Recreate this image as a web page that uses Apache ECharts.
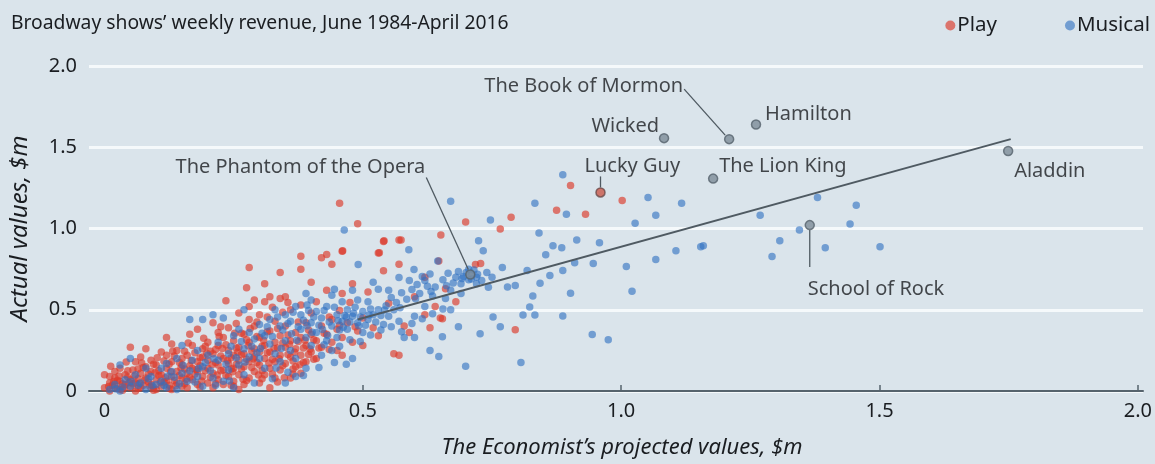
<!DOCTYPE html>
<html><head><meta charset="utf-8">
<script src="https://cdn.jsdelivr.net/npm/echarts@6/dist/echarts.min.js"></script>
<style>html,body{margin:0;padding:0;background:#dae4eb;}#c{width:1155px;height:464px;}</style>
</head><body><div id="c"></div>
<script>
var subtitle = "Broadway shows\u2019 weekly revenue, June 1984-April 2016";
var xTicks = [0, 0.5, 1, 1.5, 2];
var xTickLabels = ["0", "0.5", "1.0", "1.5", "2.0"];
var yTickLabels = {"0":"0","0.5":"0.5","1":"1.0","1.5":"1.5","2":"2.0"};

var playPoints = [
[0.0,0.02],[0.01,0.05],[0.01,0.0],[0.02,0.08],[0.02,0.03],[0.03,0.01],[0.03,0.06],[0.04,0.1],[0.04,0.04],[0.05,0.02],[0.05,0.07],[0.0,0.1],[0.02,0.12],[0.03,0.14],[0.01,0.09],
[0.06,0.0],[0.06,0.05],[0.07,0.11],[0.07,0.02],[0.08,0.08],[0.08,0.15],[0.09,0.04],[0.09,0.12],[0.1,0.01],[0.1,0.07],[0.06,0.18],[0.07,0.21],[0.08,0.26],[0.09,0.19],[0.1,0.16],[0.05,0.27],[0.055,0.13],
[0.11,0.03],[0.11,0.1],[0.12,0.06],[0.12,0.14],[0.12,0.22],[0.13,0.01],[0.13,0.09],[0.13,0.18],[0.14,0.05],[0.14,0.12],[0.14,0.25],[0.15,0.08],[0.15,0.16],[0.15,0.2],[0.11,0.24],[0.13,0.29],[0.12,0.33],[0.15,0.03],
[0.16,0.11],[0.16,0.02],[0.16,0.22],[0.17,0.07],[0.17,0.14],[0.17,0.28],[0.18,0.04],[0.18,0.18],[0.18,0.12],[0.19,0.09],[0.19,0.21],[0.19,0.26],[0.2,0.05],[0.2,0.14],[0.2,0.3],[0.165,0.35],[0.18,0.38],[0.2,0.19],
[0.21,0.02],[0.21,0.11],[0.21,0.23],[0.22,0.07],[0.22,0.16],[0.22,0.28],[0.23,0.04],[0.23,0.13],[0.23,0.2],[0.23,0.33],[0.24,0.09],[0.24,0.17],[0.24,0.25],[0.25,0.06],[0.25,0.14],[0.25,0.22],[0.25,0.31],[0.22,0.36],[0.24,0.39],[0.21,0.42],[0.25,0.03],
[0.26,0.1],[0.26,0.19],[0.26,0.27],[0.27,0.04],[0.27,0.15],[0.27,0.23],[0.27,0.35],[0.28,0.08],[0.28,0.18],[0.28,0.3],[0.29,0.12],[0.29,0.21],[0.29,0.26],[0.29,0.4],[0.3,0.05],[0.3,0.16],[0.3,0.24],[0.3,0.33],[0.28,0.44],[0.26,0.48],[0.28,0.52],[0.29,0.56],[0.3,0.47],[0.28,0.76],[0.26,0.01],
[0.31,0.1],[0.31,0.2],[0.31,0.28],[0.32,0.14],[0.32,0.24],[0.32,0.37],[0.33,0.08],[0.33,0.18],[0.33,0.3],[0.33,0.43],[0.34,0.13],[0.34,0.22],[0.34,0.34],[0.35,0.17],[0.35,0.27],[0.35,0.4],[0.31,0.55],[0.32,0.58],[0.34,0.57],[0.35,0.58],[0.31,0.66],[0.34,0.73],[0.32,0.02],
[0.36,0.08],[0.36,0.21],[0.36,0.31],[0.37,0.15],[0.37,0.26],[0.37,0.36],[0.38,0.11],[0.38,0.22],[0.38,0.33],[0.39,0.18],[0.39,0.28],[0.39,0.42],[0.4,0.24],[0.4,0.35],[0.38,0.53],[0.38,0.75],[0.38,0.83],[0.4,0.67],[0.36,0.5],[0.4,0.48],
[0.41,0.2],[0.41,0.31],[0.42,0.27],[0.42,0.4],[0.42,0.82],[0.43,0.35],[0.43,0.84],[0.44,0.3],[0.44,0.44],[0.44,0.78],[0.45,0.25],[0.45,0.38],[0.46,0.33],[0.46,0.86],[0.46,0.22],[0.47,0.42],[0.48,0.3],[0.48,0.66],[0.49,0.37],[0.5,0.28],[0.5,0.45],[0.455,1.155],[0.49,1.03],[0.46,0.6],[0.41,0.55],[0.43,0.62],
[0.51,0.61],[0.52,0.39],[0.53,0.85],[0.53,0.34],[0.54,0.92],[0.54,0.74],[0.55,0.54],[0.56,0.23],[0.57,0.22],[0.57,0.93],[0.57,0.78],[0.58,0.4],[0.59,0.36],[0.6,0.58],[0.62,0.7],[0.62,0.47],[0.63,0.39],[0.64,0.52],[0.647,0.80],[0.651,0.96],[0.65,0.45],[0.66,0.63],[0.68,0.55],[0.699,1.04],[0.718,0.778],[0.728,0.785],[0.787,1.07],[0.766,0.997],[0.795,0.377],[0.875,1.112],[0.902,1.264],[0.931,1.088],[1.002,1.173],[0.654,0.444],[0.574,0.93],[0.541,0.924],[0.532,0.851],[0.461,0.863],
[0.015,0.035],[0.025,0.015],[0.035,0.045],[0.045,0.085],[0.055,0.045],[0.065,0.075],[0.075,0.035],[0.085,0.055],[0.095,0.025],[0.105,0.095],[0.115,0.055],[0.125,0.035],[0.135,0.065],[0.145,0.095],[0.155,0.135],[0.165,0.085],[0.175,0.105],[0.185,0.155],[0.195,0.125],[0.205,0.085],[0.215,0.175],[0.225,0.125],[0.235,0.095],[0.245,0.205],[0.255,0.165],[0.265,0.135],[0.275,0.195],[0.285,0.245],[0.295,0.175],[0.305,0.125],[0.315,0.235],[0.325,0.195],[0.335,0.265],[0.345,0.155],[0.355,0.225],[0.365,0.185],[0.375,0.305],[0.385,0.265],[0.395,0.225],[0.405,0.315],[0.415,0.265],[0.425,0.355],[0.435,0.255],
[0.075,0.145],[0.095,0.165],[0.115,0.185],[0.135,0.215],[0.155,0.245],[0.175,0.235],[0.195,0.275],[0.215,0.255],[0.235,0.285],[0.255,0.265],[0.275,0.315],[0.295,0.335],[0.315,0.365],[0.335,0.385],[0.355,0.345],[0.375,0.425],[0.395,0.375],
[0.025,0.065],[0.045,0.125],[0.065,0.135],[0.085,0.105],[0.105,0.125],[0.125,0.165],[0.145,0.175],[0.165,0.155],[0.185,0.205],[0.205,0.245],[0.225,0.215],[0.245,0.135],[0.265,0.225],[0.285,0.145],[0.305,0.275],[0.325,0.105],[0.345,0.295],[0.365,0.135],[0.385,0.175],[0.405,0.195],
[0.035,0.005],[0.065,0.015],[0.095,0.005],[0.125,0.015],[0.155,0.045],[0.185,0.025],[0.215,0.045],[0.245,0.035],[0.275,0.065],[0.305,0.075],[0.335,0.055],[0.365,0.105],
[0.225,0.395],[0.255,0.415],[0.265,0.355],[0.295,0.425],[0.315,0.455],[0.345,0.485],[0.325,0.515],[0.355,0.545],[0.275,0.635],[0.235,0.555],[0.435,0.455],[0.455,0.495],[0.475,0.545],[0.455,0.405],[0.485,0.395],
[0.008,0.028],[0.018,0.058],[0.028,0.092],[0.038,0.022],[0.048,0.052],[0.058,0.092],[0.068,0.048],[0.078,0.068],[0.088,0.028],[0.098,0.112],[0.108,0.052],[0.118,0.082],[0.128,0.118],[0.138,0.032],[0.148,0.142],[0.158,0.072],[0.168,0.188],[0.178,0.132],[0.188,0.062],[0.198,0.232],[0.208,0.162],[0.218,0.098],[0.228,0.262],[0.238,0.188],[0.248,0.118],[0.258,0.238],[0.268,0.072],[0.278,0.278],[0.288,0.198],[0.298,0.098],[0.308,0.312],[0.318,0.172],[0.328,0.262],[0.338,0.198],[0.348,0.082],[0.358,0.288],[0.368,0.238],[0.378,0.162],[0.388,0.312],[0.398,0.258],[0.012,0.152],[0.042,0.178],[0.072,0.172],[0.102,0.205],[0.132,0.245],[0.162,0.295],[0.192,0.325],[0.222,0.335],[0.252,0.355],[0.282,0.385]
];

var musicalPoints = [
[0.01,0.01],[0.02,0.04],[0.03,0.0],[0.04,0.07],[0.05,0.03],[0.06,0.1],[0.07,0.05],[0.08,0.01],[0.09,0.09],[0.1,0.04],[0.05,0.2],[0.03,0.16],[0.08,0.14],
[0.11,0.06],[0.12,0.02],[0.12,0.17],[0.13,0.12],[0.14,0.01],[0.14,0.2],[0.15,0.11],[0.16,0.06],[0.17,0.19],[0.18,0.09],[0.18,0.25],[0.19,0.03],[0.19,0.15],[0.2,0.22],[0.165,0.44],[0.19,0.44],[0.21,0.47],[0.15,0.28],[0.11,0.14],
[0.21,0.08],[0.22,0.19],[0.22,0.3],[0.23,0.06],[0.24,0.23],[0.24,0.13],[0.25,0.34],[0.25,0.02],[0.26,0.16],[0.26,0.38],[0.27,0.26],[0.27,0.1],[0.28,0.21],[0.28,0.36],[0.29,0.05],[0.29,0.32],[0.3,0.2],[0.3,0.41],[0.23,0.45],[0.27,0.5],
[0.31,0.14],[0.31,0.34],[0.32,0.29],[0.32,0.44],[0.33,0.23],[0.33,0.5],[0.34,0.4],[0.34,0.18],[0.35,0.47],[0.35,0.31],[0.36,0.25],[0.36,0.43],[0.37,0.52],[0.37,0.09],[0.37,0.2],[0.38,0.38],[0.38,0.47],[0.39,0.14],[0.39,0.33],[0.392,0.529],[0.4,0.42],[0.4,0.28],[0.4,0.56],[0.35,0.05],[0.39,0.6],
[0.41,0.36],[0.41,0.49],[0.42,0.45],[0.42,0.22],[0.43,0.52],[0.43,0.31],[0.44,0.4],[0.44,0.59],[0.445,0.626],[0.45,0.47],[0.45,0.33],[0.46,0.43],[0.46,0.55],[0.464,0.991],[0.468,0.456],[0.468,0.164],[0.47,0.5],[0.47,0.38],[0.48,0.46],[0.48,0.62],[0.49,0.42],[0.49,0.56],[0.491,0.778],[0.5,0.49],[0.5,0.36],[0.44,0.25],[0.48,0.2],
[0.51,0.44],[0.51,0.55],[0.52,0.47],[0.52,0.67],[0.53,0.626],[0.53,0.5],[0.54,0.41],[0.55,0.46],[0.55,0.62],[0.56,0.5],[0.57,0.699],[0.57,0.43],[0.58,0.33],[0.589,0.869],[0.59,0.68],[0.599,0.748],[0.6,0.46],[0.6,0.33],[0.61,0.6],[0.62,0.68],[0.62,0.52],[0.63,0.72],[0.63,0.25],[0.64,0.64],[0.645,0.8],[0.647,0.213],[0.654,0.334],[0.66,0.57],[0.67,1.167],[0.67,0.62],[0.68,0.7],[0.685,0.395],[0.69,0.66],[0.699,0.152],[0.7,0.73],[0.71,0.69],[0.71,0.72],[0.705,0.75],[0.72,0.7],[0.69,0.6],[0.67,0.5],
[0.724,0.924],[0.733,0.863],[0.747,1.052],[0.727,0.353],[0.743,0.638],[0.752,0.456],[0.766,0.395],[0.77,0.76],[0.78,0.64],[0.795,0.65],[0.806,0.176],[0.81,0.468],[0.818,0.742],[0.823,0.517],[0.829,0.584],[0.833,1.155],[0.833,0.468],[0.841,0.973],[0.843,0.663],[0.854,0.839],[0.862,0.711],[0.868,0.894],[0.885,0.881],[0.887,0.742],[0.887,0.462],[0.887,1.331],[0.894,1.088],[0.902,0.602],[0.91,0.79],[0.914,0.93],[0.944,0.347],[0.946,0.784],[0.958,0.912],[0.975,0.316],[1.01,0.766],[1.021,0.614],[1.027,1.033],[1.052,1.191],[1.067,1.082],[1.067,0.809],[1.106,0.863],[1.117,1.155],[1.154,0.888],[1.159,0.894],[1.269,1.082],[1.292,0.827],[1.307,0.924],[1.345,0.991],[1.38,1.191],[1.395,0.881],[1.443,1.027],[1.455,1.143],[1.501,0.888],[0.73,0.68],[0.75,0.7],[0.74,0.73],[0.72,0.66],
[0.035,0.025],[0.065,0.035],[0.085,0.075],[0.115,0.035],[0.135,0.085],[0.145,0.045],[0.165,0.125],[0.175,0.055],[0.195,0.175],[0.205,0.125],[0.215,0.035],[0.235,0.165],[0.245,0.275],[0.255,0.205],[0.265,0.305],[0.285,0.275],[0.295,0.235],[0.305,0.355],[0.315,0.395],[0.325,0.335],[0.335,0.455],[0.345,0.375],[0.355,0.415],[0.365,0.485],[0.375,0.395],[0.385,0.435],[0.395,0.495],[0.405,0.455],[0.415,0.405],[0.425,0.495],[0.435,0.425],[0.445,0.515],[0.455,0.375],[0.465,0.465],[0.475,0.425],[0.485,0.515],[0.495,0.455],[0.505,0.405],[0.515,0.505],[0.525,0.425],[0.535,0.465],[0.545,0.525],[0.555,0.575],[0.565,0.545],[0.575,0.605],[0.585,0.565],[0.595,0.625],[0.605,0.655],[0.615,0.705],[0.625,0.645],[0.635,0.585],[0.655,0.685],[0.665,0.725],[0.675,0.665],[0.685,0.735],[0.695,0.705],[0.705,0.685],[0.715,0.745],
[0.325,0.075],[0.355,0.115],[0.385,0.095],[0.415,0.145],[0.445,0.175],[0.425,0.285],[0.455,0.275],[0.475,0.315],[0.495,0.305],[0.515,0.345],[0.535,0.375],[0.555,0.395],[0.575,0.365],[0.595,0.415],[0.615,0.445],[0.635,0.475],[0.655,0.505],
[0.022,0.012],[0.052,0.058],[0.092,0.032],[0.122,0.092],[0.152,0.158],[0.182,0.138],[0.212,0.198],[0.242,0.062],[0.272,0.178],[0.302,0.262],[0.332,0.142],[0.362,0.352],[0.392,0.402],[0.422,0.378],[0.452,0.432],[0.482,0.478],[0.512,0.468],[0.542,0.498],[0.572,0.512],[0.602,0.568],[0.632,0.612],[0.662,0.648],[0.692,0.692],[0.722,0.718],[0.342,0.262],[0.372,0.312],[0.402,0.362],[0.432,0.342],[0.462,0.392],[0.492,0.402]
];

var shows = ["Wicked","The Book of Mormon","Hamilton","The Lion King","Lucky Guy","Aladdin","School of Rock","The Phantom of the Opera"];
var showX = [1.083, 1.209, 1.261, 1.178, 0.960, 1.749, 1.365, 0.708];
var showY = [1.556, 1.550, 1.640, 1.307, 1.222, 1.477, 1.021, 0.717];
var showType = ["Musical","Musical","Musical","Musical","Play","Musical","Musical","Musical"];

var fitX = [0.49, 1.754];
var fitY = [0.44, 1.55];

// label placement (styling only): alignment, pixel shift of label from its point,
// and leader-line start/end as pixel offsets from the point
var labelStyle = {
  "Wicked": {align:'right', d:[-5,-12]},
  "The Book of Mormon": {align:'right', d:[-46,-53], line:[[-4,-4],[-45,-50]]},
  "Hamilton": {align:'left', d:[9,-10]},
  "The Lion King": {align:'left', d:[6,-12]},
  "Lucky Guy": {align:'left', d:[-16,-26], line:[[0,-5],[0,-16]]},
  "Aladdin": {align:'left', d:[6,20]},
  "School of Rock": {align:'left', d:[-2,64], line:[[0,5],[0,42]]},
  "The Phantom of the Opera": {align:'right', d:[-45,-107], line:[[-2,-5],[-44,-97]]}
};

var FONT = '"Noto Sans", sans-serif';
var chart = echarts.init(document.getElementById('c'), null, {renderer:'canvas'});

var showData = shows.map(function(n, i){
  var ls = labelStyle[n];
  var isPlay = showType[i] === 'Play';
  return {
    name: n,
    value: [showX[i], showY[i]],
    itemStyle: {color: isPlay ? '#c9574a' : '#7d8c98', borderColor: isPlay ? '#6a4a48' : '#56636d', borderWidth: 1.5},
    label: {show:true, formatter: n, position:'inside', align: ls.align, verticalAlign:'middle',
      color:'#1a1d21', fontSize:20, fontFamily: FONT}
  };
});

var option = {
  backgroundColor: '#dae4eb',
  animation: false,
  title: {
    text: subtitle, left: 6, top: 9,
    textStyle: {fontFamily: FONT, fontSize: 19.3, fontWeight: 'normal', color: '#1a1d21'}
  },
  legend: {
    right: 0, top: 10, itemWidth: 10, itemHeight: 10, itemGap: 68, icon: 'circle',
    data: ['Play', 'Musical'],
    textStyle: {fontFamily: FONT, fontSize: 20.5, color: '#1a1d21', padding:[0,0,0,-3]}
  },
  grid: {left: 80, right: 12, top: 66, bottom: 69, containLabel: false},
  xAxis: {
    type: 'value', min: -0.03, max: 2.01,
    name: 'The Economist\u2019s projected values, $m', nameLocation: 'middle', nameGap: 46,
    nameTextStyle: {fontFamily: FONT, fontSize: 22, fontStyle: 'italic', color: '#1a1d21', padding:[0,0,0,12]},
    axisLine: {show: true, lineStyle: {color: '#56636d', width: 2}},
    axisTick: {show: true, inside: true, length: 6, customValues: [0.5, 1, 1.5, 2], lineStyle: {color:'#56636d', width: 1.5}},
    axisLabel: {customValues: xTicks, formatter: function(v){ var i = xTicks.indexOf(v); return i >= 0 ? xTickLabels[i] : ''; },
      fontFamily: FONT, fontSize: 20, color: '#1a1d21', margin: 10},
    splitLine: {show: false}
  },
  yAxis: {
    type: 'value', min: 0, max: 2, interval: 0.5,
    name: 'Actual values, $m', nameLocation: 'middle', nameGap: 57, nameRotate: 90,
    nameTextStyle: {fontFamily: FONT, fontSize: 24, fontStyle: 'italic', color: '#1a1d21'},
    axisLine: {show: false}, axisTick: {show: false},
    axisLabel: {formatter: function(v){ return yTickLabels[String(v)]; }, fontFamily: FONT, fontSize: 20, color: '#1a1d21', margin: 12},
    splitLine: {show: true, lineStyle: {color: '#f5f9fb', width: 3}}
  },
  series: [
    {name: 'Play', type: 'scatter', data: playPoints, symbolSize: 7.5,
     itemStyle: {color: '#dc3a2a', opacity: 0.66}, z: 2},
    {name: 'Musical', type: 'scatter', data: musicalPoints, symbolSize: 7.5,
     itemStyle: {color: '#3171c2', opacity: 0.62}, z: 2},
    {name: 'fit', type: 'line', data: fitX.map(function(x, i){ return [x, fitY[i]]; }),
     symbol: 'none', lineStyle: {color: '#4f5a62', width: 2}, z: 3, silent: true},
    {name: 'shows', type: 'scatter', data: showData, symbolSize: 9, z: 4,
     labelLayout: function(p){
       var ls = labelStyle[shows[p.dataIndex]];
       return {dx: ls.d[0], dy: ls.d[1], hideOverlap: false};
     }}
  ]
};
chart.setOption(option);

// leader lines, anchored to each show's point through the chart's own scales
var leaders = [];
shows.forEach(function(n, i){
  var ls = labelStyle[n];
  if (!ls.line) return;
  var p = chart.convertToPixel({gridIndex: 0}, [showX[i], showY[i]]);
  leaders.push({
    type: 'line', z: 3, silent: true,
    shape: {x1: p[0] + ls.line[0][0], y1: p[1] + ls.line[0][1], x2: p[0] + ls.line[1][0], y2: p[1] + ls.line[1][1]},
    style: {stroke: '#4f5a62', lineWidth: 1.3}
  });
});
chart.setOption({graphic: leaders});
</script>
</body></html>
